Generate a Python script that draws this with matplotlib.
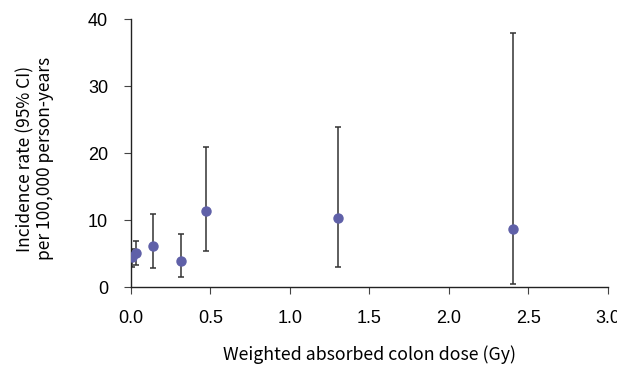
import numpy as np
import matplotlib.pyplot as plt

dose = [0.005, 0.03, 0.14, 0.315, 0.47, 1.30, 2.40]
rate = [4.5, 5.1, 6.2, 3.9, 11.4, 10.4, 8.7]
ci_low = [3.1, 3.4, 2.9, 1.5, 5.4, 3.1, 0.5]
ci_high = [5.8, 6.9, 11.0, 8.0, 21.0, 24.0, 38.0]

rate_arr = np.array(rate)
yerr = [rate_arr - np.array(ci_low), np.array(ci_high) - rate_arr]

plt.rcParams['font.family'] = ['Liberation Sans', 'DejaVu Sans']
label_font = ['Noto Sans CJK JP', 'DejaVu Sans']

fig = plt.figure(figsize=(6.17, 3.67), dpi=100)
ax = fig.add_axes([0.2123, 0.217, 0.773, 0.730])

ax.errorbar(dose, rate, yerr=yerr, fmt='none', ecolor='#333333',
            elinewidth=1.1, capsize=2.3, capthick=1.1, zorder=2)
ax.plot(dose, rate, 'o', color='#5F60A8', markersize=6.5, zorder=3)

ax.set_xlim(0, 3.0)
ax.set_ylim(0, 40)
ax.set_xticks(np.arange(0, 3.01, 0.5))
ax.set_xticklabels([f'{v:.1f}' for v in np.arange(0, 3.01, 0.5)])
ax.set_yticks([0, 10, 20, 30, 40])
ax.tick_params(labelsize=13, direction='out', length=5, color='#444444')
ax.tick_params(axis='x', pad=11)
ax.tick_params(axis='y', pad=11.5)

for side in ['top', 'right']:
    ax.spines[side].set_visible(False)
for side in ['left', 'bottom']:
    ax.spines[side].set_color('#222222')
    ax.spines[side].set_linewidth(1.0)

ax.set_xlabel('Weighted absorbed colon dose (Gy)', fontsize=12.8,
              family=label_font, va='center')
ax.xaxis.set_label_coords(0.5, -0.253)
ax.set_ylabel('Incidence rate (95% CI)\nper 100,000 person-years',
              fontsize=12.5, family=label_font, va='center', linespacing=1.15)
ax.yaxis.set_label_coords(-0.201, 0.48)

plt.savefig('out.png', dpi=100)
plt.close()
